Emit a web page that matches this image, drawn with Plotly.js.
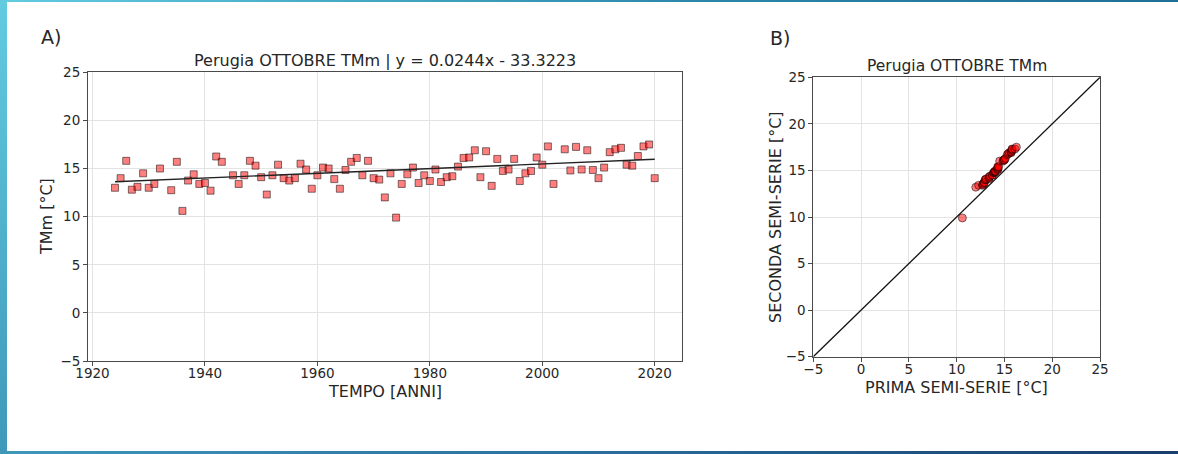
<!DOCTYPE html>
<html>
<head>
<meta charset="utf-8">
<script src="https://cdn.plot.ly/plotly-3.0.1.min.js"></script>
<style>
html,body{margin:0;padding:0;background:#fff;}
#wrap{position:relative;width:1178px;height:454px;overflow:hidden;}
#chart{position:absolute;left:0;top:0;width:1178px;height:454px;}
.bl{position:absolute;left:0;top:0;width:7px;height:454px;background:linear-gradient(#62cbe0,#3f98b8);}
.bt{position:absolute;left:0;top:0;width:1178px;height:2px;background:linear-gradient(90deg,#62cbe0,#2a86a8 60%,#1f6f95);}
.bb{position:absolute;left:0;top:451px;width:1178px;height:3px;background:linear-gradient(90deg,#3f98b8,#2a6f9a 50%,#1a3d6b);}
</style>
</head>
<body>
<div id="wrap">
<div id="chart"></div>
<div class="bl"></div><div class="bt"></div><div class="bb"></div>
</div>
<script>
// ---- data ----
const years = [1924,1925,1926,1927,1928,1929,1930,1931,1932,1934,1935,1936,1937,1938,1939,1940,1941,1942,1943,1945,
  1946,1947,1948,1949,1950,1951,1952,1953,1954,1955,1956,1957,1958,1959,1960,1961,1962,1963,1964,1965,
  1966,1967,1968,1969,1970,1971,1972,1973,1974,1975,1976,1977,1978,1979,1980,1981,1982,1983,1984,1985,
  1986,1987,1988,1989,1990,1991,1992,1993,1994,1995,1996,1997,1998,1999,2000,2001,2002,2004,2005,2006,
  2007,2008,2009,2010,2011,2012,2013,2014,2015,2016,2017,2018,2019,2020];
const tmm = [13.0,14.0,15.8,12.8,13.1,14.5,13.0,13.4,15.0,12.75,15.7,10.6,13.75,14.4,13.4,13.5,12.7,16.25,15.7,14.3,
  13.4,14.3,15.8,15.3,14.1,12.3,14.3,15.4,14.0,13.75,14.0,15.5,14.9,12.9,14.3,15.1,15.0,13.9,12.9,14.85,
  15.7,16.1,14.3,15.8,14.0,13.85,12.0,14.5,9.9,13.4,14.4,15.1,13.5,14.3,13.7,14.9,13.6,14.1,14.2,15.2,
  16.1,16.15,16.9,14.1,16.8,13.2,16.0,14.75,14.9,16.0,13.7,14.5,14.75,16.15,15.4,17.3,13.4,17.0,14.8,17.25,
  14.9,16.9,14.85,14.0,15.1,16.7,17.0,17.15,15.4,15.3,16.3,17.3,17.5,14.0];
const trendSlope = 0.0244;
const trendIntercept = -33.3223;
const axisTicksA = [1920,1940,1960,1980,2000,2020];
const axisTicksY = [-5,0,5,10,15,20,25];
const titleA = "Perugia OTTOBRE TMm | y = 0.0244x - 33.3223";
const titleB = "Perugia OTTOBRE TMm";

// Q-Q: sorted first half vs sorted second half of the series
const half = Math.floor(tmm.length/2);
const primaSemi = tmm.slice(0, half).slice().sort((a,b)=>a-b);
const secondaSemi = tmm.slice(half).slice().sort((a,b)=>a-b);
const trendX = [years[0], years[years.length-1]];
const trendY = trendX.map(x => trendSlope*x + trendIntercept);
const diag = [-5, 25];

const FONT = "DejaVu Sans, sans-serif";
const TXT = "#262626";
const axCommon = {
  showline:true, mirror:true, linecolor:"#4a4a4a", linewidth:1,
  ticks:"outside", ticklen:4, tickcolor:"#4a4a4a", tickwidth:1,
  showgrid:true, gridcolor:"#e3e3e3", gridwidth:1, zeroline:false,
  tickfont:{family:FONT, size:13.5, color:TXT}, automargin:false
};

const traces = [
  {x:years, y:tmm, type:"scatter", mode:"markers", xaxis:"x", yaxis:"y",
   marker:{symbol:"square", size:7, color:"rgba(255,0,0,0.5)", line:{color:"rgba(0,0,0,0.5)", width:1}}},
  {x:trendX, y:trendY, type:"scatter", mode:"lines", xaxis:"x", yaxis:"y",
   line:{color:"#222", width:1.4}},
  {x:diag, y:diag, type:"scatter", mode:"lines", xaxis:"x2", yaxis:"y2",
   line:{color:"#111", width:1.3}},
  {x:primaSemi, y:secondaSemi, type:"scatter", mode:"markers", xaxis:"x2", yaxis:"y2",
   marker:{symbol:"circle", size:8, color:"rgba(255,0,0,0.5)", line:{color:"rgba(0,0,0,0.5)", width:1}}}
];

const ann = (text, x, y, size, extra) => Object.assign({text, x, y, xref:"paper", yref:"paper",
  xanchor:"center", yanchor:"middle", showarrow:false, font:{family:FONT, size, color:TXT}}, extra||{});
const px = v => v/1178, py = v => 1 - v/454;

const layout = {
  width:1178, height:454, margin:{l:0,r:0,t:0,b:0},
  paper_bgcolor:"#fff", plot_bgcolor:"#fff", showlegend:false,
  xaxis:Object.assign({}, axCommon, {domain:[px(88), px(681.7)], range:[1919.2, 2024.8], tickvals:axisTicksA, anchor:"y", ticklabelstandoff:-4}),
  yaxis:Object.assign({}, axCommon, {domain:[py(361), py(72.3)], range:[-5, 25], tickvals:axisTicksY, anchor:"x"}),
  xaxis2:Object.assign({}, axCommon, {domain:[px(813.3), px(1100)], range:[-5, 25], tickvals:axisTicksY, anchor:"y2", ticklabelstandoff:-4}),
  yaxis2:Object.assign({}, axCommon, {domain:[py(356.7), py(77.3)], range:[-5, 25], tickvals:axisTicksY, anchor:"x2"}),
  annotations:[
    ann(titleA, px(384.9), py(60), 16),
    ann(titleB, px(956.5), py(66), 15.5),
    ann("A)", px(51), py(37), 19),
    ann("B)", px(780), py(38), 19),
    ann("TEMPO [ANNI]", px(385), py(391), 16),
    ann("TMm [°C]", px(46.5), py(216.6), 16, {textangle:-90}),
    ann("PRIMA SEMI-SERIE [°C]", px(957), py(387), 16),
    ann("SECONDA SEMI-SERIE [°C]", px(775), py(217), 16, {textangle:-90})
  ]
};
Plotly.newPlot("chart", traces, layout, {displayModeBar:false, staticPlot:true});
</script>
</body>
</html>
